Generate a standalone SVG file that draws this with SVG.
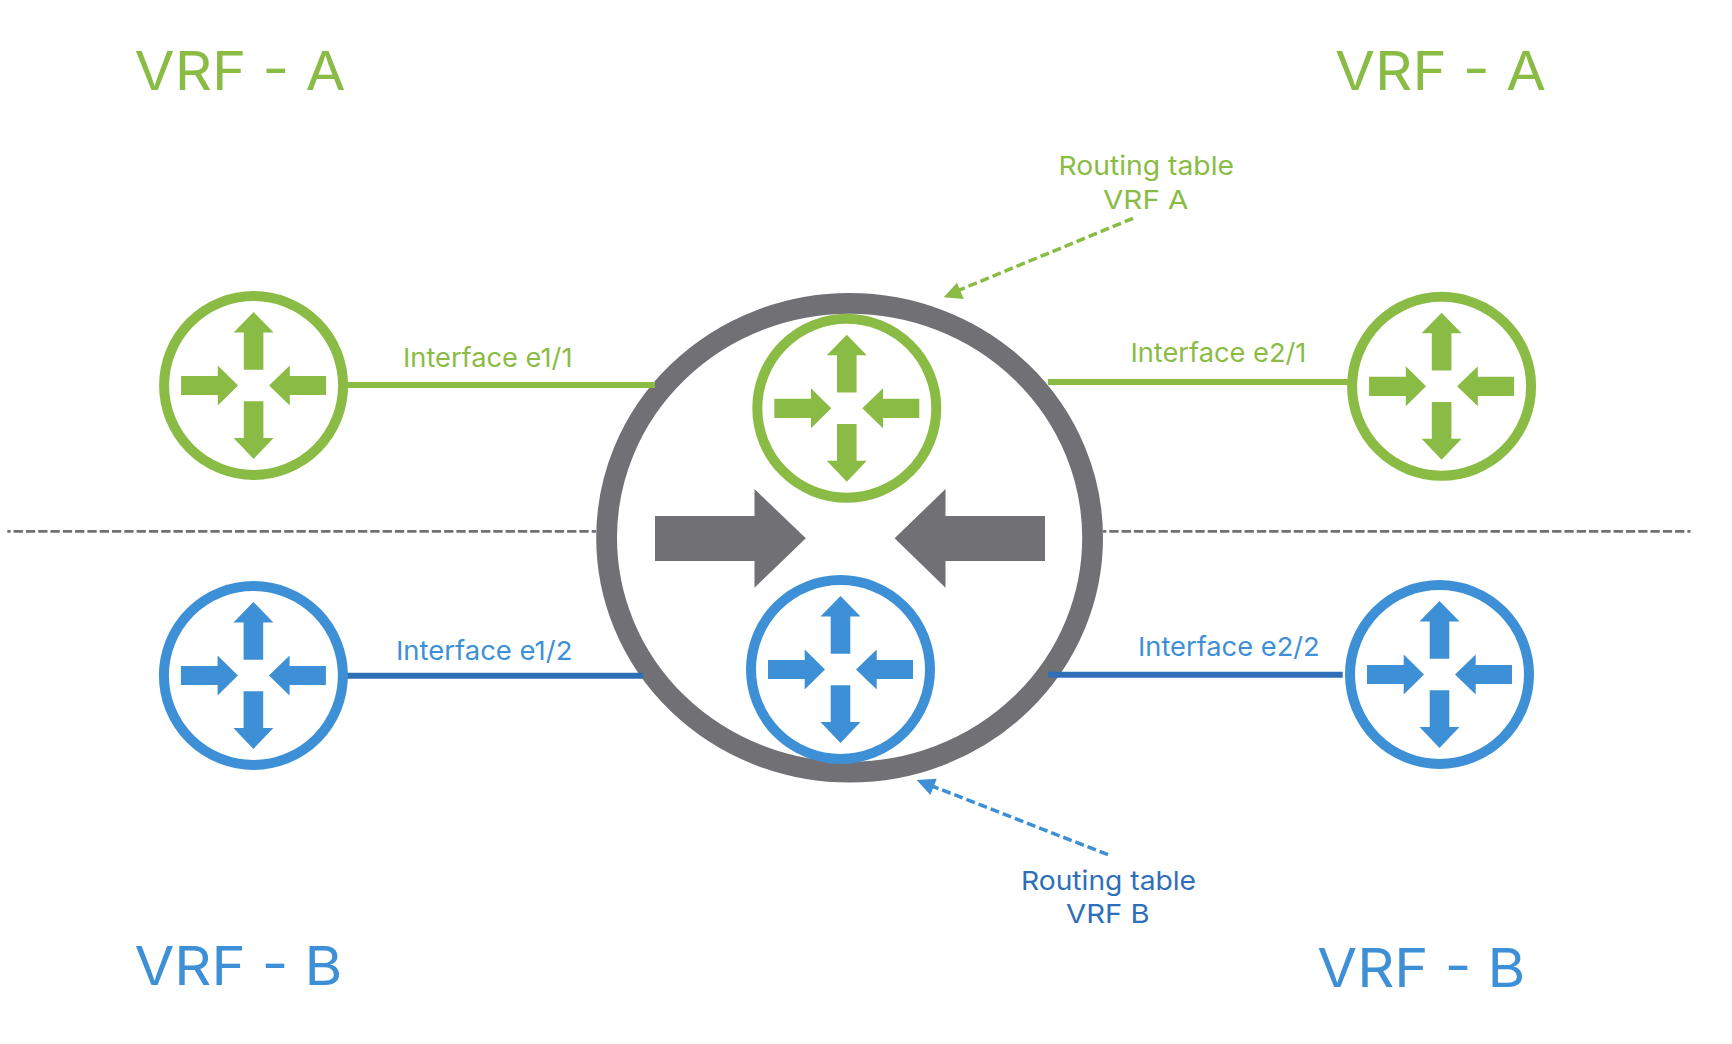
<svg xmlns="http://www.w3.org/2000/svg" width="1732" height="1044" viewBox="0 0 1732 1044">
<style>
text{font-family:"Inter","Liberation Sans",sans-serif;font-weight:400}
.big{font-size:53.5px;font-weight:380}
.lab{font-size:26.3px}
.g{fill:#8abc45}
.b{fill:#3e90d6}
.d{fill:#2e6fb8}
.rg{color:#8abc45}
.rb{color:#3e90d6}
.line{stroke-width:6;fill:none}
.dash{stroke-width:3.5;fill:none;stroke-dasharray:9 4}
</style>
<defs>
<g id="router">
<circle r="89.5" fill="#fff" stroke="currentColor" stroke-width="10"/>
<path fill="currentColor" d="M0-73.5L20-53H9.8V-15.7H-9.8V-53H-20ZM0 73.5L20 52.5H9.8V15.7H-9.8V52.5H-20ZM-15.5 0L-35.8-20V-9.6H-72.5V9.6H-35.8V20ZM15.5 0L36.2-20V-9.6H72.5V9.6H36.2V20Z"/>
</g>
</defs>
<rect width="1732" height="1044" fill="#fff"/>
<g id="divider" fill="none" stroke="#717075" stroke-width="2.7" stroke-dasharray="9.3 3" stroke-dashoffset="6">
<path d="M7.3 531.3H596"/>
<path d="M1103 531.3H1690.5"/>
</g>
<g id="switch">
<ellipse cx="849.6" cy="537.8" rx="243" ry="234.4" fill="#fff" stroke="#717075" stroke-width="20.8"/>
<path fill="#717075" d="M655 516H754.5V489L805.8 538.3L754.5 587.7V561H655Z"/>
<path fill="#717075" d="M1045 516H945.5V489L894.6 538.3L945.5 587.7V561H1045Z"/>
</g>
<g id="connectors">
<path class="line" stroke="#8abc45" d="M346 385H655"/>
<path class="line" stroke="#8abc45" d="M1048 382H1349"/>
<path class="line" stroke="#2e6fb8" d="M346 675.7H642.9"/>
<path class="line" stroke="#2e6fb8" d="M1048 674.7H1342.7"/>
<path class="dash" stroke="#8abc45" d="M1133 218.3L957 291"/>
<path fill="#8abc45" d="M943.6 297.3L957 282.7L963.8 299Z"/>
<path class="dash" stroke="#3e90d6" d="M1108 854.7L932 786"/>
<path fill="#3e90d6" d="M916.6 780L936.7 778.7L930.4 795Z"/>
</g>
<use id="router-a-left" class="rg" href="#router" x="253.6" y="385.5"/>
<use id="router-a-center" class="rg" href="#router" x="846.8" y="408.3"/>
<use id="router-a-right" class="rg" href="#router" x="1441.6" y="386.3"/>
<use id="router-b-left" class="rb" href="#router" x="253.4" y="675.5"/>
<use id="router-b-center" class="rb" href="#router" x="840.5" y="669.5"/>
<use id="router-b-right" class="rb" href="#router" x="1439.5" y="674.5"/>
<g id="labels">
<text class="big g" x="134.6" y="90" textLength="211" lengthAdjust="spacingAndGlyphs">VRF - A</text>
<text class="big g" x="1335" y="89.7" textLength="211" lengthAdjust="spacingAndGlyphs">VRF - A</text>
<text class="big b" x="134.4" y="985" textLength="208" lengthAdjust="spacingAndGlyphs">VRF - B</text>
<text class="big b" x="1317.3" y="986.7" textLength="208" lengthAdjust="spacingAndGlyphs">VRF - B</text>
<text class="lab g" x="403" y="366.7" textLength="169.5" lengthAdjust="spacingAndGlyphs">Interface e1/1</text>
<text class="lab g" x="1130.4" y="361.7" textLength="176" lengthAdjust="spacingAndGlyphs">Interface e2/1</text>
<text class="lab b" x="396" y="659.5" textLength="176.4" lengthAdjust="spacingAndGlyphs">Interface e1/2</text>
<text class="lab b" x="1138" y="656" textLength="181.7" lengthAdjust="spacingAndGlyphs">Interface e2/2</text>
<text class="lab g" x="1058.5" y="174.5" textLength="175.5" lengthAdjust="spacingAndGlyphs">Routing table</text>
<text class="lab g" x="1103" y="208.7" textLength="85.5" lengthAdjust="spacingAndGlyphs">VRF A</text>
<text class="lab d" x="1021" y="889.5" textLength="175" lengthAdjust="spacingAndGlyphs">Routing table</text>
<text class="lab d" x="1066" y="923.3" textLength="83.5" lengthAdjust="spacingAndGlyphs">VRF B</text>
</g>
</svg>
